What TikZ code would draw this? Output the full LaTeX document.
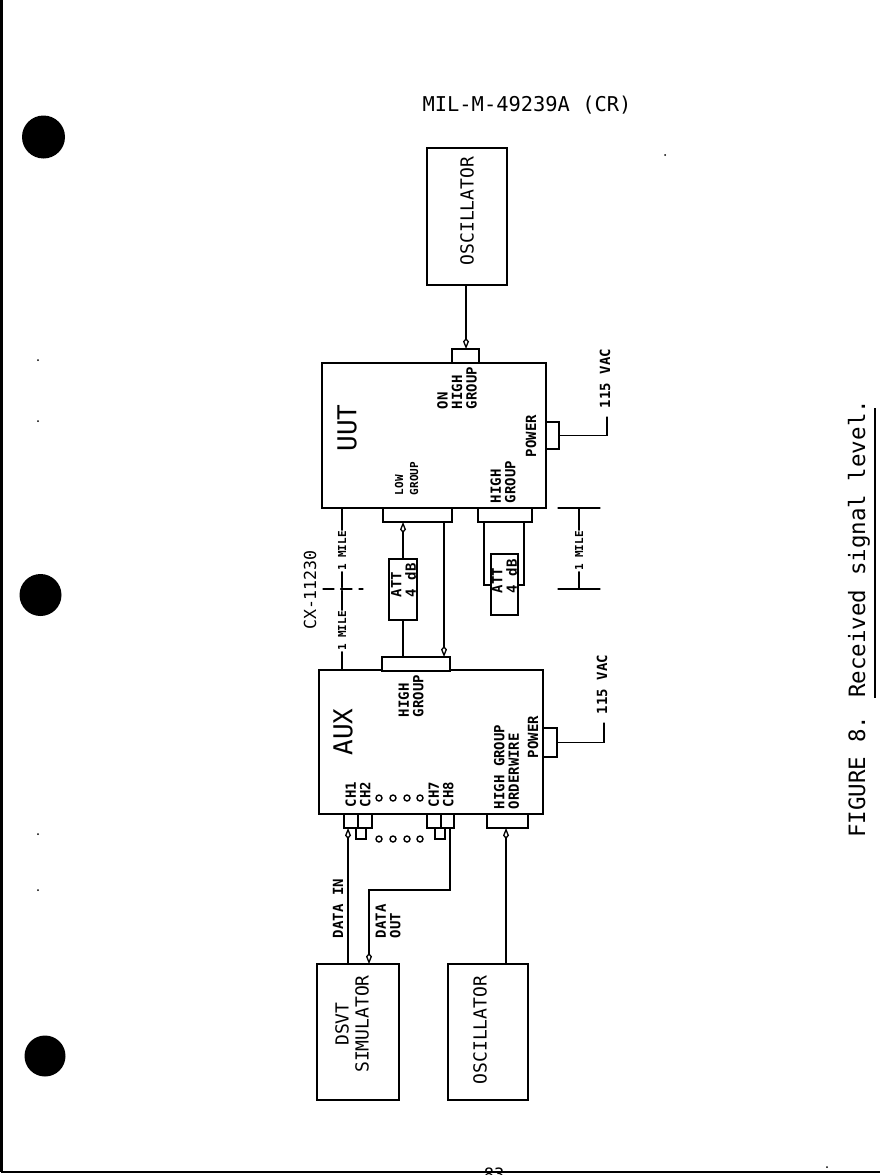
\documentclass[tikz,border=0pt]{standalone}
\usepackage{fontspec}
\setmainfont{DejaVu Sans Mono}
\usetikzlibrary{arrows.meta}
\tikzset{
  boxn/.style={draw,line width=1.4pt,inner sep=0pt,outer sep=0pt,fill=white},
  wire/.style={line width=1.3pt,line cap=round},
  sig/.style={wire,-{Kite[open,length=11pt,width=6pt,inset=3.5pt]}},
  lab/.style={rotate=90,inner sep=0pt,outer sep=0pt,align=left,anchor=west,font=\fontsize{14}{14.5}\selectfont\bfseries},
  lsmall/.style={lab,font=\fontsize{11}{15}\selectfont\bfseries},
  lmile/.style={rotate=90,inner sep=1pt,outer sep=0pt,font=\fontsize{11}{12}\selectfont\bfseries},
  lbig/.style={rotate=90,inner sep=0pt,align=center,font=\fontsize{18}{20}\selectfont},
  lhuge/.style={rotate=90,inner sep=0pt,font=\fontsize{26}{28}\selectfont},
  blob/.style={fill=black,draw=none},
  specks/.style={circle,fill=black,inner sep=0pt,minimum size=2pt},
  hole/.style={circle,draw,line width=1.4pt,inner sep=0pt,minimum size=6pt},
}
\newcommand{\bx}[5]{\pgfmathsetmacro\cxx{(#2+#4)/2}\pgfmathsetmacro\cyy{(#3+#5)/2}\pgfmathsetmacro\ww{#4-#2}\pgfmathsetmacro\hh{#5-#3}\node[boxn,minimum width=\ww pt,minimum height=\hh pt] (#1) at (\cxx,\cyy) {};}
\begin{document}
\begin{tikzpicture}[x=1pt,y=-1pt]
\clip (0,0) rectangle (880,1175);
\useasboundingbox (0,0) rectangle (880,1175);
\fill[white] (0,0) rectangle (880,1175);
% page edge and punch holes
\draw[line width=3pt] (1,0) -- (1,1172);
\draw[line width=1.5pt] (1,1172) -- (880,1172);
\fill[blob] (43.5,137) circle (21.5);
\fill[blob] (40.5,595) circle (21);
\fill[blob] (45,1056) circle (20.5);
\node[specks] (s1) at (665,155) {};
\node[specks] (s2) at (38,360) {};
\node[specks] (s3) at (38,421) {};
\node[specks] (s4) at (38,834) {};
\node[specks] (s5) at (38,890) {};
\node[specks] (s6) at (827,1167) {};
% heading
\node[font=\fontsize{20.4}{22}\selectfont,inner sep=0pt] (head) at (527,105) {MIL-M-49239A (CR)};
\node[inner sep=0pt,anchor=north,font=\fontsize{17}{18}\selectfont] (pageno) at (494,1168) {83};
% caption
\node[rotate=90,anchor=west,inner sep=0pt,font=\fontsize{22.5}{24}\selectfont] (cap) at (859,838) {FIGURE 8. Received signal level.};
\coordinate (ula) at (875,408);
\coordinate (ulb) at (875,698);
\draw[line width=1.3pt] (ula) -- (ulb);
% blocks
\bx{osca}{427}{148}{507}{285}
\bx{uut}{322}{363}{546}{508}
\bx{onhigh}{452}{349}{479}{363}
\bx{upow}{546}{422}{559}{449}
\bx{ulow}{383}{508}{452}{522}
\bx{uhigh}{478}{508}{532}{522}
\bx{atta}{389}{559}{417}{620}
\bx{attb}{491}{554}{518}{615}
\bx{aux}{319}{670}{543}{814}
\bx{ahigh}{382}{657}{450}{671}
\bx{apow}{543}{728}{557}{757}
\bx{cha}{344}{814}{358}{828}
\bx{chb}{358}{814}{372}{828}
\bx{chg}{427}{814}{441}{828}
\bx{chh}{441}{814}{454}{828}
\bx{tabb}{356}{828}{366}{839}
\bx{tabg}{435}{828}{445}{839}
\bx{aord}{487}{814}{528}{828}
\bx{dsvt}{317}{964}{399}{1100}
\bx{oscb}{448}{964}{528}{1100}
% connectors helpers
\coordinate (ax) at (466,300);
\coordinate (pu) at (607,417);
\coordinate (pa) at (604,723);
\coordinate (lx) at (403,540);
\coordinate (ly) at (444,540);
\coordinate (hl) at (484,585);
\coordinate (hr) at (524,585);
\coordinate (din) at (348,900);
\coordinate (dout) at (450,890);
\coordinate (dout2) at (369,890);
\coordinate (ordx) at (506,900);
% connectors
\draw[sig] (osca.south -| ax) -- (onhigh.north -| ax);
\draw[wire] (upow.east) -- (upow.east -| pu) -- (pu);
\draw[wire] (apow.east) -- (apow.east -| pa) -- (pa);
\draw[sig] (atta.north -| lx) -- (ulow.south -| lx);
\draw[wire] (atta.south -| lx) -- (ahigh.north -| lx);
\draw[sig] (ulow.south -| ly) -- (ahigh.north -| ly);
\draw[wire] (uhigh.south -| hl) -- (hl) -- (attb.west |- hl);
\draw[wire] (uhigh.south -| hr) -- (hr) -- (attb.east |- hr);
\draw[sig] (dsvt.north -| din) -- (cha.south -| din);
\draw[sig] (chh.south -| dout) -- (dout) -- (dout2) -- (dsvt.north -| dout2);
\draw[sig] (oscb.north -| ordx) -- (aord.south -| ordx);
% 1 mile cable
\node[lmile] (mia) at (342,551) {1 MILE};
\node[lmile] (mib) at (342,631) {1 MILE};
\node[lmile] (mic) at (579,551) {1 MILE};
\coordinate (cra) at (323,589);
\coordinate (crb) at (363,589);
\node[circle,draw,line width=.8pt,inner sep=0pt,minimum size=3pt,fill=white] (crc) at (342,589) {};
\coordinate (tka) at (558,508);
\coordinate (tkb) at (600,508);
\coordinate (tkc) at (558,589);
\coordinate (tkd) at (600,589);
\draw[wire] (uut.south -| mia) -- (mia.east);
\draw[wire] (mia.west) -- (crc) -- (mib.east);
\draw[wire] (mib.west) -- (aux.north -| mib);
\draw[wire,dash pattern=on 11pt off 7pt] (cra) -- (crb);
\draw[wire] (tka) -- (tkb);
\draw[wire] (tkc) -- (tkd);
\draw[wire] (mic.east) -- (tka -| mic);
\draw[wire] (mic.west) -- (tkc -| mic);
% holes
\foreach \n/\hx in {a/379,b/393,c/407,d/420}{
  \node[hole] (in\n) at (\hx,798) {};
  \node[hole] (out\n) at (\hx,839) {};
}
% labels
\node[lbig] (tosca) at (467,211) {OSCILLATOR};
\node[lbig] (toscb) at (480,1030) {OSCILLATOR};
\node[lbig] (tdsvt) at (352,1024) {DSVT\\SIMULATOR};
\node[lhuge] (tuut) at (347,428) {UUT};
\node[lhuge] (taux) at (343,732) {AUX};
\node[rotate=90,inner sep=0pt,font=\fontsize{16.6}{18}\selectfont] (tcx) at (310,590) {CX-11230};
\node[lab] (tonh) at (457,409) {ON\\HIGH\\GROUP};
\node[lsmall] (tlow) at (406.5,495) {LOW\\GROUP};
\node[lab] (thg) at (503,503) {HIGH\\GROUP};
\node[lab,anchor=center] (tpu) at (531,436) {POWER};
\node[lab,anchor=center] (tpa) at (533,737) {POWER};
\node[lab] (tvu) at (605,408) {115 VAC};
\node[lab] (tva) at (602,714) {115 VAC};
\node[lab] (tatta) at (403.5,597) {ATT\\4 dB};
\node[lab] (tattb) at (504.5,593) {ATT\\4 dB};
\node[lab] (tahg) at (411,717) {HIGH\\GROUP};
\node[lab] (tch1) at (358,807) {CH1\\CH2};
\node[lab] (tch7) at (441,807) {CH7\\CH8};
\node[lab] (tord) at (506.5,809) {HIGH GROUP\\ORDERWIRE};
\node[lab] (tdin) at (338,938) {DATA IN};
\node[lab] (tdout) at (388,938) {DATA\\OUT};
\end{tikzpicture}
\end{document}
